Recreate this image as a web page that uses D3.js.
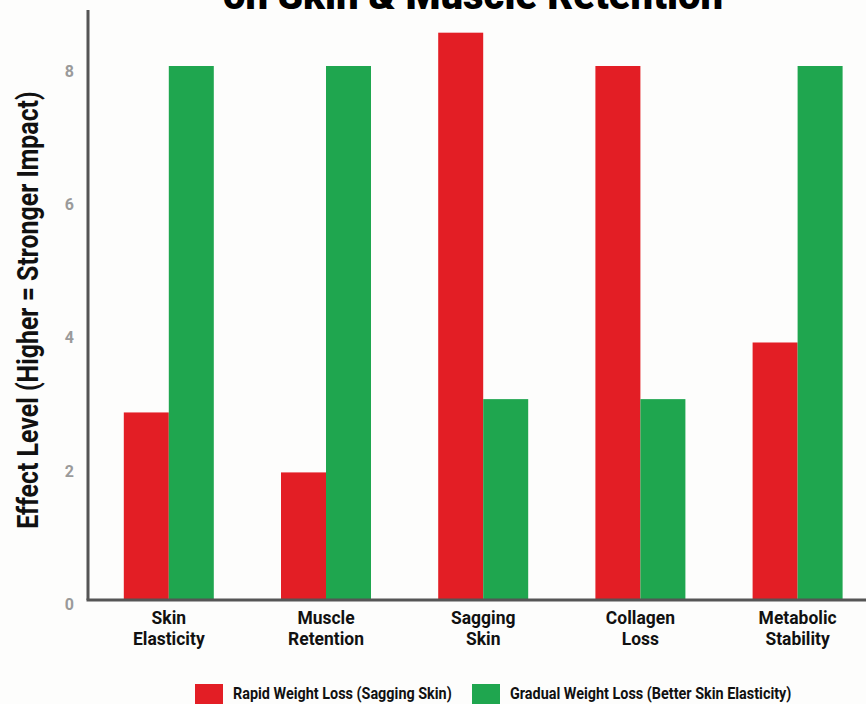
<!DOCTYPE html>
<html>
<head>
<meta charset="utf-8">
<script src="https://cdn.jsdelivr.net/npm/d3@7"></script>
<style>
  html, body { margin: 0; padding: 0; background: #fdfdfc; }
  svg { display: block; }
</style>
</head>
<body>
<div id="chart"></div>
<script>
const categories = [["Skin", "Elasticity"], ["Muscle", "Retention"], ["Sagging", "Skin"], ["Collagen", "Loss"], ["Metabolic", "Stability"]];
const seriesNames = ["Rapid Weight Loss (Sagging Skin)", "Gradual Weight Loss (Better Skin Elasticity)"];
const rapidValues = [2.8, 1.9, 8.5, 8, 3.85];
const gradualValues = [8, 8, 3, 3, 8];
const yTicks = [0, 2, 4, 6, 8];
const colors = ["#e31e25", "#1fa64f"];
const titleText = "on Skin & Muscle Retention";
const yTitle = "Effect Level (Higher = Stronger Impact)";

const W = 866, H = 704;
const FONT = "Roboto, sans-serif";
const svg = d3.select("#chart").append("svg").attr("width", W).attr("height", H);
svg.append("rect").attr("width", W).attr("height", H).attr("fill", "#fdfdfc");

// condensed text helper
function condText(parent, x, y, txt, size, sx, anchor, rot) {
  const g = parent.append("g").attr("transform", `translate(${x},${y})${rot ? ` rotate(${rot})` : ""} scale(${sx},1)`);
  return g.append("text").attr("x", 0).attr("y", 0).attr("text-anchor", anchor || "start")
    .attr("font-family", FONT).attr("font-weight", 700).attr("font-size", size)
    .attr("fill", "#111").text(txt);
}

const catKeys = categories.map(c => c.join(" "));
const x0 = d3.scaleBand().domain(catKeys).range([90.2, 876.2]).paddingInner(0.4275).paddingOuter(0.21375);
const x1 = d3.scaleBand().domain(seriesNames).range([0, x0.bandwidth()]).padding(0);
const y = d3.scaleLinear().domain([0, 8]).range([599, 66]);

// title (only lower line visible)
svg.append("text").attr("x", 473).attr("y", 9).attr("text-anchor", "middle")
  .attr("font-family", FONT).attr("font-weight", 900).attr("font-size", 40)
  .attr("fill", "#000").text(titleText);

// bars
const data = catKeys.map((k, i) => ({ key: k, vals: [rapidValues[i], gradualValues[i]] }));
svg.append("g").selectAll("g.cat").data(data).join("g").attr("class", "cat")
  .attr("transform", d => `translate(${x0(d.key)},0)`)
  .selectAll("rect").data(d => d.vals.map((v, j) => ({ v, s: seriesNames[j], j })))
  .join("rect")
  .attr("x", d => x1(d.s))
  .attr("y", d => y(d.v))
  .attr("width", x1.bandwidth())
  .attr("height", d => y(0) - y(d.v))
  .attr("fill", d => colors[d.j]);

// y axis
const yAxis = d3.axisLeft(y).tickValues(yTicks).tickSize(0).tickPadding(14);
const ya = svg.append("g").attr("transform", "translate(88,0)").call(yAxis);
ya.select(".domain").remove();
ya.selectAll("text").attr("font-size", 16).attr("fill", "#9a9a9a")
  .attr("font-family", FONT).attr("font-weight", 700).attr("dy", "0.65em");
svg.append("line").attr("x1", 88).attr("x2", 88).attr("y1", y(8.84)).attr("y2", 600)
  .attr("stroke", "#555").attr("stroke-width", 3);

// x axis
const xAxis = d3.axisBottom(x0).tickSize(0).tickFormat("");
const xa = svg.append("g").attr("transform", "translate(0,600)").call(xAxis);
xa.select(".domain").remove();
svg.append("line").attr("x1", 86.5).attr("x2", W).attr("y1", 600).attr("y2", 600)
  .attr("stroke", "#555").attr("stroke-width", 3);

const lbl = svg.append("g");
categories.forEach((c, i) => {
  const cx = x0(catKeys[i]) + x0.bandwidth() / 2;
  condText(lbl, cx, 624, c[0], 19, 0.92, "middle");
  condText(lbl, cx, 645, c[1], 19, 0.92, "middle");
});

// y title
condText(svg, 38, 310, yTitle, 30, 0.83, "middle", -90);

// legend
const legendX = [195, 472];
const lg = svg.append("g");
seriesNames.forEach((s, i) => {
  lg.append("rect").attr("x", legendX[i]).attr("y", 684).attr("width", 28).attr("height", 20).attr("fill", colors[i]);
  condText(lg, legendX[i] + 38, 699, s, 16, 0.9, "start");
});
</script>
</body>
</html>
